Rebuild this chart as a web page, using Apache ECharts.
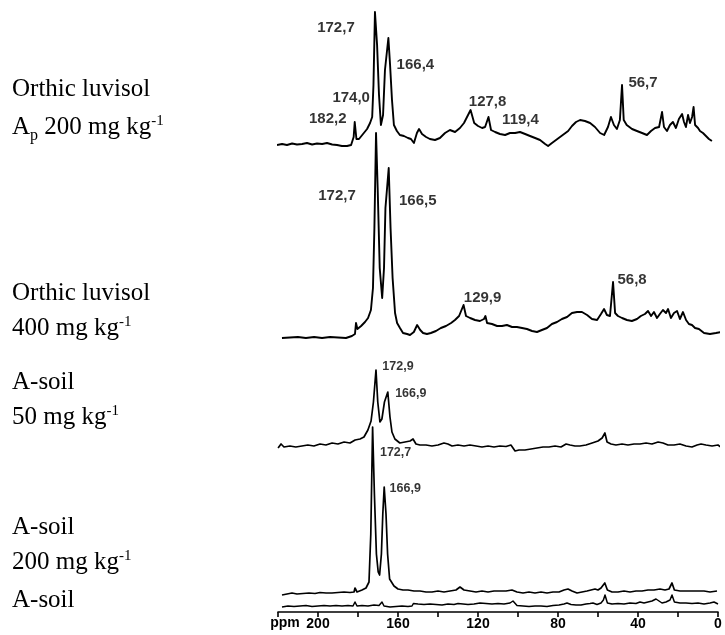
<!DOCTYPE html>
<html>
<head>
<meta charset="utf-8">
<script src="https://cdn.jsdelivr.net/npm/echarts@6/dist/echarts.min.js"></script>
<style>
  html, body { margin: 0; padding: 0; background: #fff; }
  #chart { width: 725px; height: 635px; }
</style>
</head>
<body>
<div id="chart"></div>
<script>
// 13C NMR spectra, chemical shift in ppm vs. relative intensity (baseline = 0)

// Orthic luvisol, Ap horizon, 200 mg/kg
const specLuvisolAp200 = [[218.7,0],[216.3,1],[214.0,0],[211.6,1.5],[209.3,0.5],[206.9,1],[204.6,2],[202.2,0.5],[199.9,1.5],[197.5,1],[195.2,2],[192.8,0.5],[190.5,0],[188.2,-1],[185.8,-1],[183.9,0],[183.6,1],[182.7,8],[182.2,23],[181.4,6],[180.2,6],[178.3,11],[176.4,16],[175.0,22],[174.0,28],[173.4,60],[172.7,133],[171.7,100],[170.8,50],[169.9,20],[168.9,30],[168.0,75],[166.4,107],[165.6,80],[164.7,45],[163.8,20],[162.4,14],[161.0,10],[159.1,9],[157.2,7],[155.8,6],[154.4,2],[153.0,12],[152.0,16],[150.6,11],[148.7,8],[146.9,6],[144.5,5],[142.2,7],[139.8,12],[137.5,15],[135.1,13],[132.8,17],[130.9,22],[127.8,35],[126.1,22],[124.3,19],[122.4,17],[121.0,18],[119.4,28],[118.2,15],[116.3,13],[114.0,11],[111.6,10],[109.3,12],[106.9,12],[104.6,13],[102.2,11],[99.9,9],[97.5,7],[95.2,5],[92.8,1],[91.4,-1],[89.6,2],[87.7,5],[85.8,8],[83.9,11],[82.0,14],[80.2,19],[78.3,23],[76.4,25],[74.1,24],[71.7,22],[69.4,18],[67.0,12],[65.1,10],[63.3,18],[61.9,28],[60.5,20],[59.1,16],[57.7,25],[56.7,60],[55.9,25],[54.5,20],[52.0,16],[49.7,14],[47.3,12],[45.0,10],[43.1,14],[41.2,17],[39.3,18],[37.9,33],[37.0,18],[35.6,14],[34.2,20],[32.8,23],[31.4,17],[30.0,26],[28.5,31],[27.6,23],[26.7,18],[25.7,30],[24.8,22],[23.8,28],[23.1,38],[22.4,20],[21.0,17],[20.1,14],[18.7,12],[17.3,9],[15.9,6],[14.5,4]];

// Orthic luvisol, 400 mg/kg
const specLuvisol400 = [[218.7,0],[214.8,0.5],[210.9,1],[207.0,0],[203.0,1],[199.1,0],[195.2,1],[191.3,0.5],[187.4,0],[184.5,2],[183.0,4],[182.5,15],[181.8,9],[180.0,12],[178.1,16],[176.6,20],[175.2,28],[174.2,50],[173.5,110],[172.7,205],[171.9,150],[170.9,70],[169.7,40],[168.8,70],[168.1,130],[166.5,170],[165.6,110],[164.6,60],[163.4,25],[162.4,15],[161.0,10],[159.5,5],[157.5,4],[156.1,3],[154.2,6],[152.6,13],[151.1,8],[149.7,5],[147.8,4],[145.9,5],[143.4,7],[141.0,10],[138.5,12],[136.0,15],[134.1,18],[132.1,22],[129.9,33],[128.7,22],[126.7,20],[124.3,18],[121.9,17],[119.9,19],[119.2,22],[118.4,15],[116.0,14],[113.5,12],[111.1,12],[108.7,13],[106.2,11],[103.8,11],[101.3,10],[98.9,9],[96.4,7],[94.0,6],[91.6,8],[89.1,10],[86.7,14],[84.2,16],[81.8,19],[79.3,21],[76.9,25],[74.4,26],[72.0,26],[69.5,23],[67.1,19],[64.6,18],[62.7,24],[61.2,29],[59.8,23],[58.3,22],[56.8,56],[55.8,25],[54.4,22],[52.4,20],[50.0,18],[47.6,17],[45.1,19],[43.2,22],[41.2,24],[39.7,27],[38.2,22],[36.8,26],[35.3,20],[33.9,24],[32.4,28],[30.9,25],[29.9,29],[28.5,20],[27.0,25],[25.5,27],[24.1,19],[22.6,26],[21.1,18],[19.7,14],[18.2,13],[16.7,10],[14.8,9],[12.3,5],[9.4,4],[6.5,5],[4.0,6],[2.1,5]];

// A-soil, 50 mg/kg
const specASoil50 = [[222.6,-1],[221.1,3],[219.6,0],[216.6,1],[213.6,0],[210.5,1],[207.5,2],[204.4,1],[201.3,3],[198.3,2],[195.2,4],[192.2,3],[189.1,5],[186.1,4],[183.5,7],[181.0,8],[179.0,10],[177.0,17],[175.4,26],[174.2,45],[172.9,77],[172.0,45],[170.9,25],[169.9,28],[168.6,45],[166.9,55],[165.8,30],[164.8,15],[163.3,8],[160.8,4],[158.2,5],[155.6,6],[154.1,8],[152.6,3],[150.6,2],[147.5,2],[144.5,1],[141.4,2],[138.4,4],[136.4,3],[134.3,1],[131.3,2],[128.2,1],[125.2,2],[122.1,1],[119.1,0],[116.0,1],[113.0,0],[110.0,1],[106.9,0.5],[104.4,2],[102.3,-4],[100.3,-3],[97.3,-3],[94.2,-2],[91.2,-1],[88.1,0],[85.1,0],[82.0,1],[79.0,0],[76.4,3],[74.4,2],[71.9,1],[69.4,1],[66.3,2],[63.2,4],[60.2,6],[58.1,9],[56.7,14],[55.6,5],[53.6,3],[51.1,2],[48.0,3],[45.0,2],[41.9,3],[38.9,3],[35.8,4],[32.8,3],[29.7,5],[27.2,4],[24.7,2],[21.6,2],[18.6,3],[15.5,1],[12.5,0],[9.9,2],[7.9,3],[5.4,2],[2.3,1],[-0.7,2],[-2.7,-1]];

// A-soil, 200 mg/kg
const specASoil200 = [[218,-1],[215.5,0],[213,1],[210.5,0],[207.5,0.5],[204.5,1],[201.5,0.5],[199,1.5],[196,1],[193,1],[190,1.5],[187,2],[184,1.5],[182,2],[181.5,6],[180.5,2],[178,4],[176,6],[174.5,12],[173.6,60],[172.7,167],[171.8,100],[170.8,40],[169.9,22],[169.2,19],[168.3,40],[167.6,80],[166.9,107],[166.0,80],[165.2,40],[164.2,15],[162,8],[160,5],[157.5,4],[155,4],[152,3],[149,3],[146,2],[143,2],[140,3],[137,2],[134,3],[131,4],[129,7],[127,4],[124,3],[121,2],[118,3],[115,2],[112,3],[109,3],[106,3],[103,4],[102,6],[100.5,2],[97.5,1],[94.5,2],[91.5,1],[88.5,2],[85.5,1],[82.5,2],[79.5,2],[77,4],[75,5],[73,3],[70.5,1],[68,2],[65.5,3],[63.5,4],[61.5,5],[60,4],[58.5,6],[56.6,11],[55.3,4],[53,2],[50,2],[47,3],[44,2],[41,3],[38,3],[35,4],[32,4],[29,5],[26.5,4],[24.5,5],[23,11],[21.8,4],[19,3],[16,3],[13,3],[10,3],[7,3],[4,2],[0.5,3]];

// A-soil, untreated
const specASoil = [[218,-1],[215,0],[212,-0.5],[209,0],[206,0.5],[203,-0.5],[200,0],[197,0.5],[194,0],[191,0.5],[188,0],[185,0.5],[182.5,0],[181.5,4],[180.5,0],[178,0.5],[175,0],[172,1],[169.5,0.5],[168,4],[167,0],[164,-1],[161,-0.5],[158,0],[155,-0.5],[153,0],[152.3,2.5],[150,2],[147,1.5],[144,2],[141,1.5],[138,1],[135,2],[132,1.5],[130,2.5],[129,4],[127.5,2],[125,1.5],[122,2],[119,3],[116,2.5],[113,2],[110,2.5],[107,2],[104,3],[102.5,5],[100.5,0.5],[97.5,0],[94.5,-0.5],[91.5,0],[88.5,0],[85.5,-0.5],[82.5,0.5],[79.5,1],[77,2],[75.5,3],[73.5,1.5],[71,1],[68.5,1],[66,2],[64,2.5],[62.5,3],[60.5,1.5],[58.5,3],[57.3,6],[56.5,11],[55.3,3],[53,2],[50,2.5],[47,2],[44,3],[41,2.5],[39,4],[37,3],[35,4],[33,5],[31,7],[29.5,5],[28,3],[26,4],[24,6],[23,11],[21.8,4],[19,3],[16,3],[13,2.5],[10,3],[7,2],[4,3],[2,4],[0,2]];

// Assigned peak positions (ppm) per spectrum
const peaksLuvisolAp200 = [172.7, 166.4, 174.0, 182.2, 127.8, 119.4, 56.7];
const peaksLuvisol400 = [172.7, 166.5, 129.9, 56.8];
const peaksASoil50 = [172.9, 166.9];
const peaksASoil200 = [172.7, 166.9];

// Axis tick labels (ppm)
const tickLabels = [200, 160, 120, 80, 40, 0];

// Sample captions
const captions = [
  ['Orthic luvisol', 'A{sub|p} 200 mg kg{sup|-1}'],
  ['Orthic luvisol', '400 mg kg{sup|-1}'],
  ['A-soil', '50 mg kg{sup|-1}'],
  ['A-soil', '200 mg kg{sup|-1}'],
  ['A-soil']
];

// ---------- layout ----------
const LEFT = 278, RIGHT = 7;
// each trace gets its own panel; baseline pixel row, headroom and x-range of the panel
const panels = [
  { data: specLuvisolAp200, peaks: peaksLuvisolAp200, base: 145, head: 140, foot: 10, xmin: 11.64, xmax: 218.22, font: 15, width: 1.9,
    offsets: [[-39,16],[27,27],[-21,-19],[-27,-3],[17,-8],[32,3],[21,-2]] },
  { data: specLuvisol400, peaks: peaksLuvisol400, base: 338, head: 220, foot: 10, xmin: 5.477, xmax: 220.64, font: 15, width: 1.9,
    offsets: [[-39,63],[29,33],[19,-7],[19,-2]] },
  { data: specASoil50, peaks: peaksASoil50, base: 447, head: 100, foot: 10, xmin: -0.711, xmax: 222.64, font: 12.5, width: 1.7,
    offsets: [[22,-3],[23,2]] },
  { data: specASoil200, peaks: peaksASoil200, base: 594, head: 180, foot: 6, xmin: 0, xmax: 220, font: 12.5, width: 1.7,
    offsets: [[23,26],[21,2]] },
  { data: specASoil, peaks: [], base: 606, head: 30, foot: 6, xmin: 0, xmax: 220, font: 12.5, width: 1.5, offsets: [] }
];
const captionRows = [[89, 127], [293, 328], [382, 417], [527, 562], [600]];

const grids = [], xAxes = [], yAxes = [], series = [];
panels.forEach((p, i) => {
  const isAxisPanel = i === panels.length - 1;
  grids.push({ left: LEFT, right: RIGHT, top: p.base - p.head, height: p.head + p.foot });
  yAxes.push({ gridIndex: i, type: 'value', min: -p.foot, max: p.head, show: false });
  xAxes.push({
    gridIndex: i, type: 'value', inverse: true, min: p.xmin, max: p.xmax,
    show: isAxisPanel, interval: 20, position: 'bottom',
    axisLine: { onZero: false, lineStyle: { color: '#000', width: 1.6 } },
    axisTick: { show: true, length: 5, lineStyle: { color: '#000', width: 1.6 } },
    axisLabel: {
      margin: 5, color: '#000', fontFamily: 'Liberation Sans, Arial, sans-serif',
      fontWeight: 'bold', fontSize: 14,
      formatter: v => tickLabels.includes(v) ? String(v) : ''
    },
    splitLine: { show: false }
  });
  series.push({
    type: 'line', xAxisIndex: i, yAxisIndex: i, data: p.data,
    showSymbol: false, symbol: 'none', smooth: false, clip: false, silent: true,
    lineStyle: { color: '#000', width: p.width, join: 'round' }, z: 2
  });
  if (p.peaks.length) {
    const pts = p.peaks.map((ppm, k) => {
      const hit = p.data.find(d => d[0] === ppm);
      return {
        value: [ppm, hit ? hit[1] : 0],
        label: { offset: p.offsets[k] }
      };
    });
    series.push({
      type: 'scatter', xAxisIndex: i, yAxisIndex: i, data: pts,
      symbolSize: 1, itemStyle: { color: 'rgba(0,0,0,0)' }, silent: true, clip: false, z: 3,
      label: {
        show: true, position: 'inside', align: 'center', verticalAlign: 'middle',
        color: '#000', fontWeight: 'bold', fontSize: p.font,
        fontFamily: 'Liberation Sans, Arial, sans-serif',
        formatter: prm => prm.value[0].toFixed(1).replace('.', ',')
      }
    });
  }
});

const serifRich = {
  sub: { fontSize: 16, fontFamily: 'Liberation Serif, Times New Roman, serif', padding: [18, 0, 0, 0] },
  sup: { fontSize: 15, fontFamily: 'Liberation Serif, Times New Roman, serif', padding: [0, 0, 12, 0] }
};
const graphic = [];
captions.forEach((lines, i) => {
  lines.forEach((txt, j) => {
    graphic.push({
      type: 'text', x: 12, y: captionRows[i][j], silent: true,
      style: {
        text: txt, fill: '#000', fontSize: 25,
        fontFamily: 'Liberation Serif, Times New Roman, serif',
        verticalAlign: 'middle', align: 'left', rich: serifRich
      }
    });
  });
});
graphic.push({
  type: 'text', x: 285, y: 623, silent: true,
  style: {
    text: 'ppm', fill: '#000', fontSize: 14, fontWeight: 'bold',
    fontFamily: 'Liberation Sans, Arial, sans-serif', align: 'center', verticalAlign: 'middle'
  }
});

const chart = echarts.init(document.getElementById('chart'), null, { renderer: 'canvas' });
chart.setOption({
  backgroundColor: '#fff',
  animation: false,
  grid: grids,
  xAxis: xAxes,
  yAxis: yAxes,
  series: series,
  graphic: graphic
});
</script>
</body>
</html>
